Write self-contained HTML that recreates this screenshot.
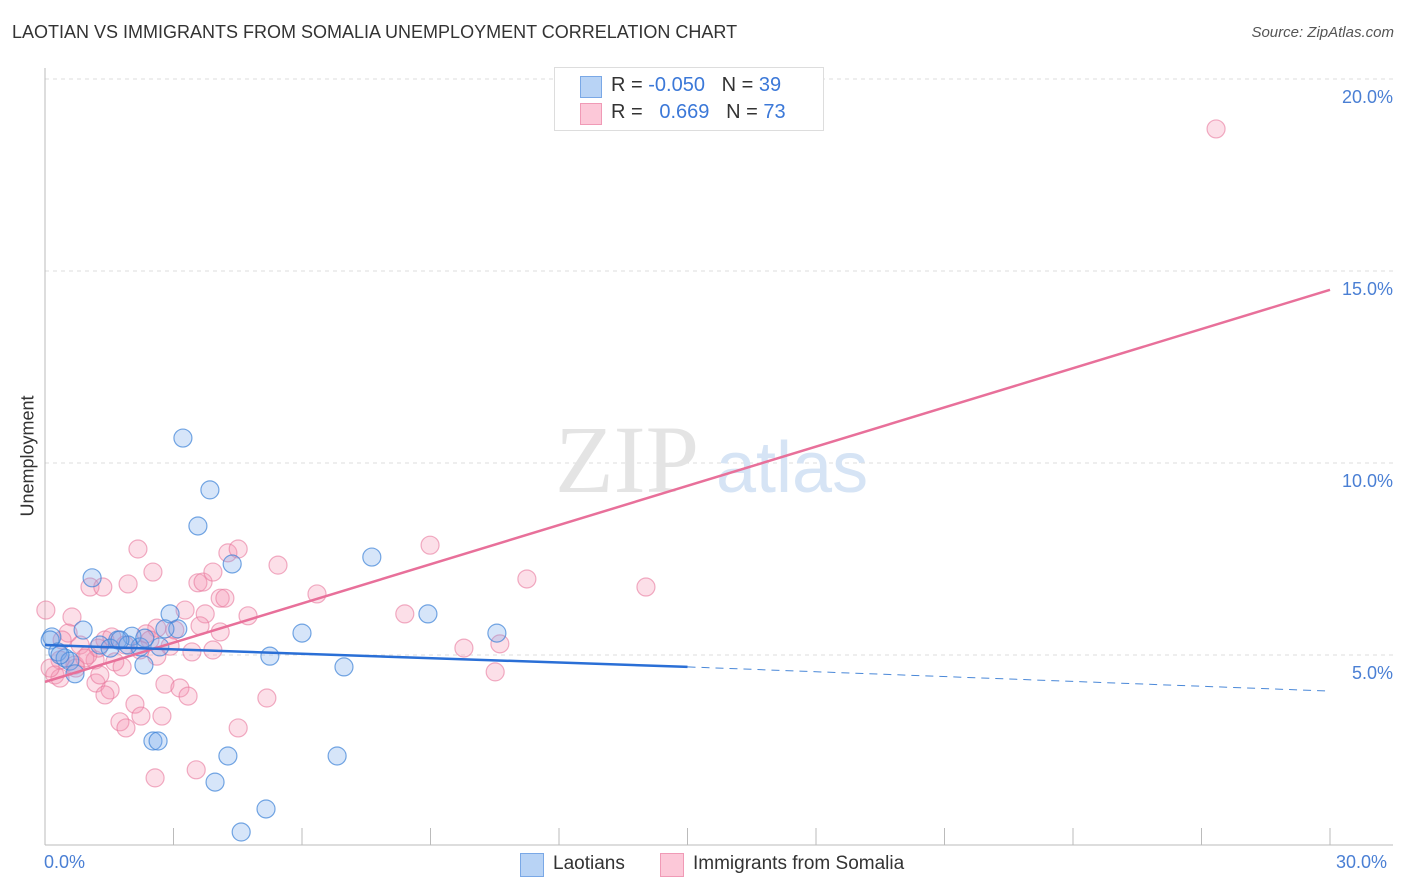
<!DOCTYPE html>
<html><head><meta charset="utf-8"><style>
body{margin:0;background:#fff;font-family:"Liberation Sans",sans-serif;}
#wrap{position:relative;width:1406px;height:892px;overflow:hidden;}
.t{position:absolute;white-space:nowrap;}
</style></head><body>
<div id="wrap">
<div class="t" style="left:12px;top:22px;font-size:18px;color:#333;">LAOTIAN VS IMMIGRANTS FROM SOMALIA UNEMPLOYMENT CORRELATION CHART</div>
<div class="t" style="right:12px;top:24px;font-size:15px;color:#555;font-style:italic;">Source: ZipAtlas.com</div>
<svg id="plot" width="1406" height="892" style="position:absolute;left:0;top:0"></svg>
</div>
<script>
const blueX=[3.22,3.85,3.57,4.37,1.10,7.63,8.94,2.92,6.00,10.55,0.89,3.10,2.80,0.16,0.12,2.03,1.70,1.28,1.52,2.22,1.94,2.68,0.30,0.47,0.58,0.70,2.31,5.25,6.98,2.52,2.64,4.27,6.82,3.97,5.16,4.58,0.35,1.75,2.33];
const blueY=[10.65,9.30,8.36,7.37,7.01,7.55,6.07,6.07,5.57,5.57,5.65,5.68,5.68,5.47,5.39,5.49,5.39,5.26,5.18,5.21,5.26,5.21,5.08,4.92,4.84,4.51,4.74,4.97,4.69,2.76,2.76,2.37,2.37,1.69,0.99,0.39,5.00,5.39,5.44];
const pinkX=[0.02,1.05,0.63,2.17,2.52,1.94,1.35,3.57,3.69,3.92,4.27,4.51,5.44,4.09,4.20,3.27,3.74,3.62,2.61,2.36,3.03,1.40,1.56,4.09,4.74,6.35,8.40,8.99,11.25,14.03,9.78,10.62,10.51,3.92,3.43,2.61,2.92,1.87,0.82,0.35,0.23,0.35,0.12,0.70,1.17,1.24,1.63,1.80,1.19,1.52,1.40,2.10,2.80,3.15,3.34,2.24,2.73,1.75,1.89,4.51,5.18,2.57,3.53,27.34,0.54,1.00,2.45,0.72,0.93,2.22,0.40,1.28];
const pinkY=[6.17,6.77,5.99,7.76,7.16,6.85,6.77,6.88,6.90,7.16,7.66,7.76,7.34,6.48,6.48,6.17,6.07,5.76,5.70,5.55,5.65,5.39,5.47,5.60,6.02,6.59,6.07,7.86,6.98,6.77,5.18,5.29,4.56,5.13,5.08,4.97,5.23,5.26,5.26,4.87,4.48,4.40,4.66,4.74,4.87,5.18,4.82,4.69,4.27,4.09,3.96,3.72,4.24,4.14,3.93,3.41,3.41,3.26,3.10,3.10,3.88,1.80,2.01,18.70,5.57,5.00,5.39,4.66,4.92,5.13,5.39,4.48];
const yTicks=[5,10,15,20];
const yTickLabels=["5.0%","10.0%","15.0%","20.0%"];
const xTicks=[0,3,6,9,12,15,18,21,24,27,30];
const pinkTrend=[4.30,14.51];
const blueTrend=[5.26,4.69,4.06];

const NS="http://www.w3.org/2000/svg";
const svg=document.getElementById('plot');
const X=v=>45+v*1285/30;
const Y=v=>847-v*38.4;
function mk(tag,attrs){const e=document.createElementNS(NS,tag);for(const k in attrs)e.setAttribute(k,attrs[k]);svg.appendChild(e);return e;}

yTicks.forEach((t,i)=>{
  const g=mk('line',{x1:45,x2:1393,y1:Y(t),y2:Y(t),stroke:'#ddd','stroke-dasharray':'4,4'});
  
  
  const tx=mk('text',{x:1393,y:Y(t)+24,'text-anchor':'end','font-size':18,fill:'#4a7fd4','font-family':'Liberation Sans, sans-serif'});
  tx.textContent=yTickLabels[i];
  
  
});
const ax=mk('line',{x1:45,x2:45,y1:68,y2:845,stroke:'#bbb'});


const bx=mk('line',{x1:45,x2:1393,y1:845,y2:845,stroke:'#bbb'});


xTicks.forEach(t=>{
  const l=mk('line',{x1:X(t),x2:X(t),y1:828,y2:845,stroke:'#bbb'});
  
  
});
// watermark
const wm=mk('text',{x:555,y:492,'font-size':96,fill:'#e4e4e4','font-family':'Liberation Serif, serif'});
wm.textContent='ZIP';


const wm2=mk('text',{x:716,y:492,'font-size':72,fill:'#d6e4f5','font-family':'Liberation Sans, sans-serif'});
wm2.textContent='atlas';



pinkX.forEach((x,i)=>{
  const c=mk('circle',{cx:X(x),cy:Y(pinkY[i]),r:9,fill:'rgba(244,150,180,0.3)',stroke:'rgba(232,120,156,0.6)','stroke-width':1.2});
  
  
});
blueX.forEach((x,i)=>{
  const c=mk('circle',{cx:X(x),cy:Y(blueY[i]),r:9,fill:'rgba(120,170,235,0.3)',stroke:'rgba(60,130,215,0.7)','stroke-width':1.2});
  
  
});
const pl=mk('line',{x1:X(0),y1:Y(pinkTrend[0]),x2:X(30),y2:Y(pinkTrend[1]),stroke:'#e8709a','stroke-width':2.5});


const bl=mk('line',{x1:X(0),y1:Y(blueTrend[0]),x2:X(15),y2:Y(blueTrend[1]),stroke:'#2a6fd6','stroke-width':2.5});


const bd=mk('line',{x1:X(15),y1:Y(blueTrend[1]),x2:X(30),y2:Y(blueTrend[2]),stroke:'#4a88d8','stroke-width':1,'stroke-dasharray':'8,6'});


</script>
<div class="t" style="left:44px;top:852px;font-size:18px;color:#4a7fd4;">0.0%</div>
<div class="t" style="left:1336px;top:852px;font-size:18px;color:#4a7fd4;">30.0%</div>
<div class="t" style="left:16px;top:456px;font-size:18px;color:#333;transform:translate(-50%,-50%) rotate(-90deg);transform-origin:center;margin-left:12px;">Unemployment</div>
<div style="position:absolute;left:554px;top:67px;width:268px;height:62px;border:1px solid #ddd;background:#fff;font-size:20px;">
 <div style="position:absolute;left:25px;top:8px;width:20px;height:20px;background:#b8d3f5;border:1px solid #7aa8e6;"></div>
 <div class="t" style="left:56px;top:6px;color:#333;">R = <span style="color:#3b78d8">-0.050</span>&nbsp;&nbsp;&nbsp;N = <span style="color:#3b78d8">39</span></div>
 <div style="position:absolute;left:25px;top:35px;width:20px;height:20px;background:#fcc8d8;border:1px solid #f09ab6;"></div>
 <div class="t" style="left:56px;top:33px;color:#333;">R = &nbsp;&nbsp;<span style="color:#3b78d8">0.669</span>&nbsp;&nbsp;&nbsp;N = <span style="color:#3b78d8">73</span></div>
</div>
<div style="position:absolute;left:520px;top:853px;width:22px;height:22px;background:#b8d3f5;border:1px solid #7aa8e6;"></div>
<div class="t" style="left:553px;top:853px;font-size:19px;color:#333;">Laotians</div>
<div style="position:absolute;left:660px;top:853px;width:22px;height:22px;background:#fcc8d8;border:1px solid #f09ab6;"></div>
<div class="t" style="left:693px;top:853px;font-size:19px;color:#333;">Immigrants from Somalia</div>
</body></html>
